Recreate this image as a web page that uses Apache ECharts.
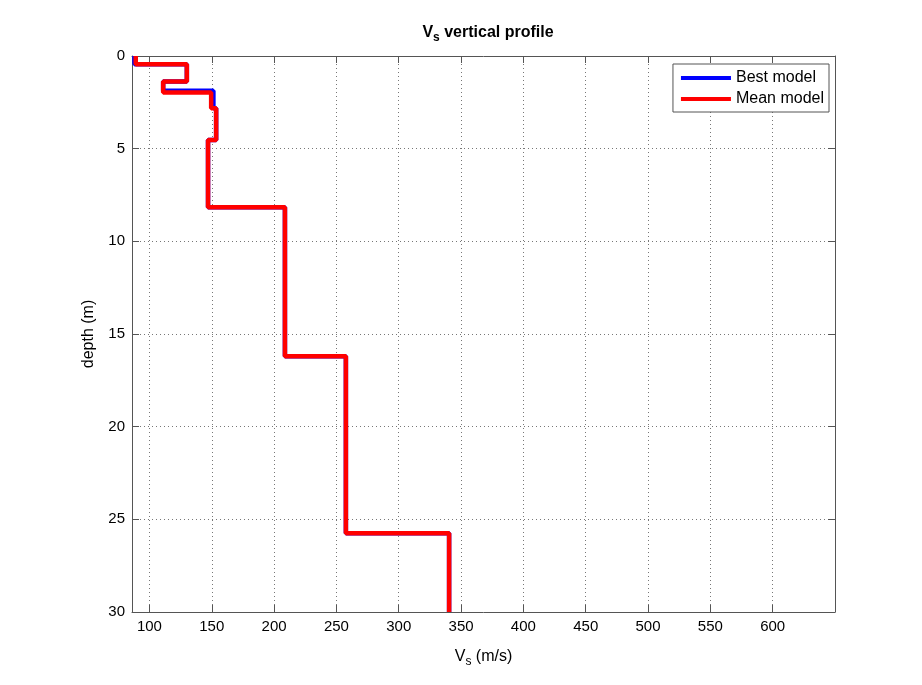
<!DOCTYPE html>
<html>
<head>
<meta charset="utf-8">
<script src="https://cdn.jsdelivr.net/npm/echarts@6/dist/echarts.min.js"></script>
<style>
html,body{margin:0;padding:0;background:#fff;}
#c{width:922px;height:685px;}
</style>
</head>
<body>
<div id="c"></div>
<script>
// Layer boundaries (depth, m) and layer velocities (Vs, m/s)
const meanBounds = [0, 0.45, 1.37, 1.97, 2.82, 4.53, 8.16, 16.2, 25.75, 30];
const meanVs     = [89, 130, 111, 149.5, 153.5, 147, 208.7, 257.6, 340.4];
const bestBounds = [0, 0.45, 1.37, 1.87, 2.82, 4.53, 8.16, 16.2, 25.75, 30];
const bestVs     = [88, 130, 111, 151.3, 153.5, 147, 208.7, 257.6, 340.4];
const xTickValues = [100, 150, 200, 250, 300, 350, 400, 450, 500, 550, 600];
const xTickMarks  = [100, 150, 200, 250, 300, 350, 400, 450, 500, 550, 600, 650];
const xMin = 86, xMax = 650;
const yMin = 0, yMax = 30, yStep = 5;

function stepProfile(bounds, vs) {
  const pts = [];
  for (let i = 0; i < vs.length; i++) {
    pts.push([vs[i], bounds[i]]);
    pts.push([vs[i], bounds[i + 1]]);
  }
  return pts;
}

const font = 'Liberation Sans, Arial, Helvetica, sans-serif';
const axisColor = '#555';
const chart = echarts.init(document.getElementById('c'), null, {renderer: 'canvas'});
const gridLine = {show: true, lineStyle: {color: '#777', type: [1, 3], width: 1}};

chart.setOption({
  backgroundColor: '#fff',
  animation: false,
  title: {
    text: '{n|V}{s|s}{n| vertical profile}',
    left: 483, top: 17, textAlign: 'center',
    textStyle: {
      rich: {
        n: {fontFamily: font, fontSize: 16, fontWeight: 'bold', color: '#000', lineHeight: 22},
        s: {fontFamily: font, fontSize: 12, fontWeight: 'bold', color: '#000', lineHeight: 22, padding: [10, 0, 0, 0]}
      }
    }
  },
  legend: {
    orient: 'vertical', right: 93, top: 64,
    backgroundColor: '#fff', borderColor: axisColor, borderWidth: 1,
    padding: [6, 5, 5, 8], itemGap: 5, itemWidth: 50, itemHeight: 4,
    icon: 'rect',
    textStyle: {fontFamily: font, fontSize: 16, color: '#000'},
    data: ['Best model', 'Mean model']
  },
  grid: {left: 132, right: 87, top: 56, bottom: 73},
  xAxis: [{
    type: 'value', min: xMin, max: xMax, position: 'bottom',
    name: '{n|V}{s|s}{n| (m/s)}', nameLocation: 'middle', nameGap: 34,
    nameTextStyle: {rich: {
      n: {fontFamily: font, fontSize: 16, color: '#000', lineHeight: 22},
      s: {fontFamily: font, fontSize: 12, color: '#000', lineHeight: 22, padding: [10, 0, 0, 0]}
    }},
    axisLine: {show: true, onZero: false, lineStyle: {color: axisColor, width: 1}},
    axisTick: {show: true, inside: true, length: 7, customValues: xTickMarks, lineStyle: {color: axisColor}},
    axisLabel: {customValues: xTickValues, fontFamily: font, fontSize: 15, color: '#000', margin: 7},
    splitLine: gridLine
  }, {
    type: 'value', min: xMin, max: xMax, position: 'top',
    axisLine: {show: true, onZero: false, lineStyle: {color: axisColor, width: 1}},
    axisTick: {show: true, inside: true, length: 7, customValues: xTickMarks, lineStyle: {color: axisColor}},
    axisLabel: {show: false},
    splitLine: {show: false}
  }],
  yAxis: [{
    type: 'value', inverse: true, min: yMin, max: yMax, interval: yStep, position: 'left',
    name: 'depth (m)', nameLocation: 'middle', nameGap: 35,
    nameTextStyle: {fontFamily: font, fontSize: 16, color: '#000'},
    axisLine: {show: true, onZero: false, lineStyle: {color: axisColor, width: 1}},
    axisTick: {show: true, inside: true, length: 7, lineStyle: {color: axisColor}},
    axisLabel: {fontFamily: font, fontSize: 15, color: '#000', margin: 7},
    splitLine: gridLine
  }, {
    type: 'value', inverse: true, min: yMin, max: yMax, interval: yStep, position: 'right',
    axisLine: {show: true, onZero: false, lineStyle: {color: axisColor, width: 1}},
    axisTick: {show: true, inside: true, length: 7, lineStyle: {color: axisColor}},
    axisLabel: {show: false},
    splitLine: {show: false}
  }],
  series: [{
    name: 'Best model', type: 'line', xAxisIndex: 0, yAxisIndex: 0,
    data: stepProfile(bestBounds, bestVs),
    showSymbol: false, symbol: 'none',
    lineStyle: {color: '#0000ff', width: 4.5},
    itemStyle: {color: '#0000ff'}, z: 2
  }, {
    name: 'Mean model', type: 'line', xAxisIndex: 0, yAxisIndex: 0,
    data: stepProfile(meanBounds, meanVs),
    showSymbol: false, symbol: 'none',
    lineStyle: {color: '#ff0000', width: 4.5},
    itemStyle: {color: '#ff0000'}, z: 3
  }]
});
</script>
</body>
</html>
